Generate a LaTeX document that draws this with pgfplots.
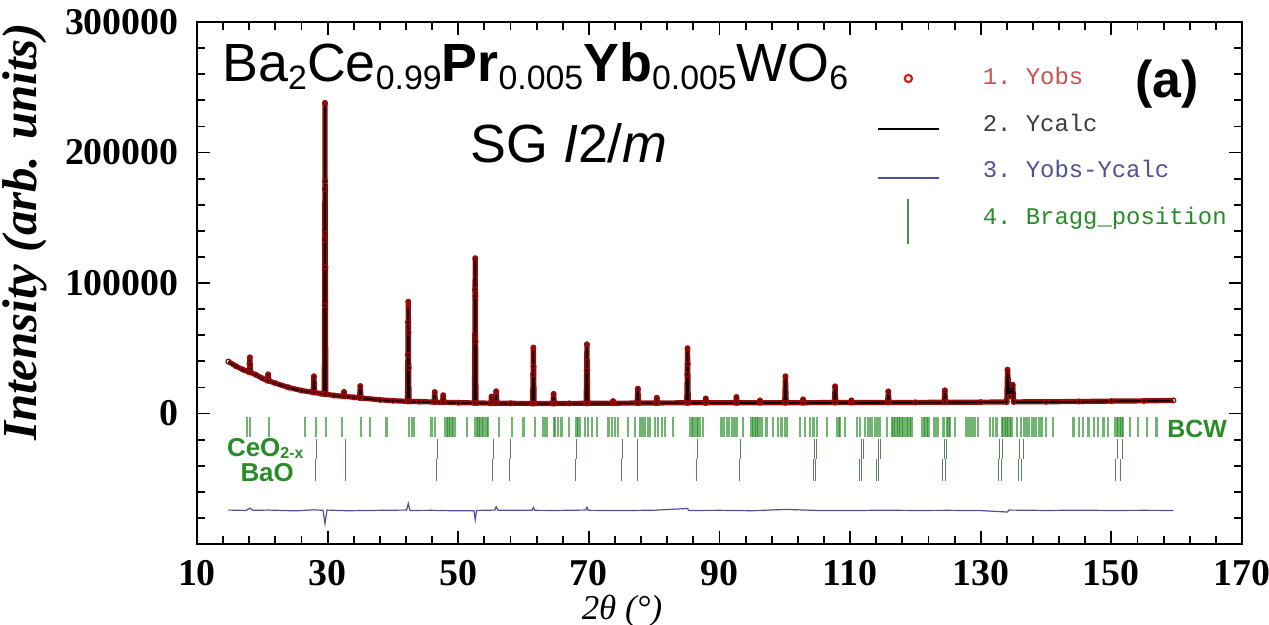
\documentclass[border=0pt]{standalone}
\usepackage{pgfplots}
\pgfplotsset{compat=1.18}
\usepackage{fontspec}
\setmainfont{Liberation Serif}
\setsansfont{Liberation Sans}
\setmonofont{Liberation Mono}
\newfontfamily\arial{Liberation Sans}
\definecolor{obsred}{RGB}{150,10,10}
\definecolor{legred}{RGB}{200,80,80}
\definecolor{legcirc}{RGB}{200,30,30}
\definecolor{calcgray}{RGB}{60,60,60}
\definecolor{diffblue}{RGB}{80,80,150}
\definecolor{braggreen}{RGB}{40,140,40}
\definecolor{tickgreen}{RGB}{20,130,20}
\definecolor{phasegreen}{RGB}{90,130,90}
\newcommand\sub[1]{\raisebox{-4bp}{\fontsize{17}{17}\selectfont #1}}
\begin{document}
\begin{tikzpicture}
\useasboundingbox (-98.5bp,-40.5bp) rectangle (536bp,272bp);
\begin{axis}[
  at={(0,0)}, anchor=south west, scale only axis,
  width=522.5bp, height=261bp,
  xmin=10, xmax=170, ymin=-100000, ymax=300000,
  scaled y ticks=false, scaled x ticks=false,
  xtick={10,30,...,170}, xticklabels={10,30,50,70,90,110,130,150,170},
  ytick={-100000,0,100000,200000,300000}, yticklabels={{},0,100000,200000,300000},
  minor x tick num=4, minor y tick num=4,
  tick align=inside, major tick length=6.5bp, minor tick length=4bp,
  axis line style={line width=1.2bp},
  every tick/.append style={line width=0.9bp, black},
  ticklabel style={font=\bfseries\fontsize{19}{19}\selectfont, inner sep=0pt},
  xticklabel style={yshift=-8bp},
  yticklabel style={xshift=-9bp},
  ylabel={\bfseries\itshape Intensity (arb. units)},
  ylabel style={at={(axis description cs:-0.1646,0.598)}, anchor=center, font=\fontsize{24.5}{24.5}\selectfont},
  xlabel={\itshape 2θ (°)},
  xlabel style={at={(axis description cs:0.4067,-0.129)}, anchor=center, font=\fontsize{17.5}{17.5}\selectfont},
  legend style={at={(axis description cs:0.6507,0.9148)}, anchor=north west, draw=none, fill=none,
    inner sep=0pt, outer sep=0pt, row sep=11.3bp, column sep=21bp,
    nodes={inner sep=0pt, text height=9bp, text depth=3bp, font=\fontsize{12}{12}\selectfont\ttfamily}},
  legend cell align=left,
]
% 1. Yobs
\addplot[forget plot, color=obsred, line width=2.6bp, line join=round, mark=o, mark size=1.2bp,
  mark options={line width=0.6bp, draw=obsred, fill=none}]
coordinates {
(14.8,39800) (16,36200) (17,33700) (17.98,31700) (18.05,38000) (18.1,43000) (18.15,37000) (18.22,31500)
(19,29700) (20,27000) (20.78,25200) (20.9,30000) (21.02,25000) (22,23200) (24,20000) (26,17600)
(27.78,16200) (27.9,28500) (28.02,16100) (29,15200) (29.48,14900) (29.54,83000) (29.56,133000)
(29.58,172000) (29.6,238000) (29.62,178000) (29.64,138000) (29.66,112000) (29.72,14800)
(31,13800) (32.38,13200) (32.5,16500) (32.62,13150) (34,12400) (34.88,12000) (35.0,21000) (35.12,11900)
(38,10500) (40,9800) (42.23,9300) (42.29,45000) (42.32,70000) (42.35,85600) (42.38,62000) (42.41,35000)
(42.47,9250) (44,9100) (46.28,8800) (46.4,16400) (46.52,8750) (47.58,8600) (47.7,14000) (47.82,8600)
(50,8300) (52.48,8100) (52.54,60000) (52.57,95000) (52.6,119000) (52.63,90000) (52.66,55000) (52.72,8100)
(54.98,7900) (55.1,13000) (55.22,7900) (55.68,7900) (55.8,17000) (55.92,7900) (58,7800)
(61.38,7700) (61.46,30000) (61.5,50500) (61.54,36000) (61.62,7700) (64.48,7700) (64.6,15000) (64.72,7700)
(67,7750) (69.58,7800) (69.66,33000) (69.7,53000) (69.74,40000) (69.82,7800) (73.58,7900) (73.7,9500)
(73.82,7900) (77.38,8000) (77.5,19000) (77.62,8000) (80.28,8100) (80.4,12000) (80.52,8100)
(84.98,8200) (85.06,30000) (85.1,50000) (85.14,38000) (85.22,8200) (87.78,8200) (87.9,11500) (88.02,8200)
(92.48,8200) (92.6,12600) (92.72,8200) (96.08,8300) (96.2,10000) (96.32,8300) (99.98,8300) (100.1,28500)
(100.22,8300) (102.68,8300) (102.8,10800) (102.92,8300) (107.58,8400) (107.7,20800) (107.82,8400)
(110.08,8400) (110.2,10000) (110.32,8400) (115.73,8500) (115.85,16900) (115.97,8500) (120,8500)
(124.38,8600) (124.5,17700) (124.62,8600) (130,8700) (133.98,8800) (134.1,33600) (134.4,13000)
(134.9,22000) (135.05,8900) (140,9000) (145,9200) (150,9500) (155,9700) (159.5,10000)
};
% 2. Ycalc
\addplot[forget plot, color=black, line width=0.8bp, line join=round, mark=none]
coordinates {
(14.8,39500) (16,36000) (17,33500) (17.98,31500) (18.1,42000) (18.22,31300) (19,29500) (20,26800)
(20.78,25000) (20.9,29500) (21.02,24800) (22,23000) (24,19800) (26,17400) (27.78,16000) (27.9,28000)
(28.02,15900) (29,15000) (29.48,14700) (29.6,236000) (29.72,14600) (31,13600) (32.38,13000) (32.5,16000)
(32.62,12950) (34,12200) (34.88,11800) (35.0,20500) (35.12,11700) (38,10300) (40,9600) (42.23,9100)
(42.35,80000) (42.47,9050) (44,8900) (46.28,8600) (46.4,16000) (46.52,8550) (47.58,8400) (47.7,13500)
(47.82,8400) (50,8100) (52.48,7900) (52.6,118000) (52.72,7900) (54.98,7700) (55.1,12500) (55.22,7700)
(55.68,7700) (55.8,14000) (55.92,7700) (58,7600) (61.38,7500) (61.5,49000) (61.62,7500) (64.48,7500)
(64.6,14500) (64.72,7500) (67,7550) (69.58,7600) (69.7,51000) (69.82,7600) (73.58,7700) (73.7,9500)
(73.82,7700) (77.38,7800) (77.5,18500) (77.62,7800) (80.28,7900) (80.4,11500) (80.52,7900) (84.98,8000)
(85.1,48500) (85.22,8000) (87.78,8000) (87.9,11000) (88.02,8000) (92.48,8000) (92.6,12200) (92.72,8000)
(96.08,8100) (96.2,10000) (96.32,8100) (99.98,8100) (100.1,27500) (100.22,8100) (102.68,8100) (102.8,10500)
(102.92,8100) (107.58,8200) (107.7,20000) (107.82,8200) (110.08,8200) (110.2,10000) (110.32,8200)
(115.73,8300) (115.85,16500) (115.97,8300) (120,8300) (124.38,8400) (124.5,17000) (124.62,8400) (130,8500)
(133.98,8600) (134.1,33000) (134.4,13000) (134.9,21500) (135.05,8700) (140,8800) (145,9000) (150,9300)
(155,9500) (159.5,9800)
};
% 3. Yobs-Ycalc
\addplot[forget plot, color=diffblue, line width=0.6bp, mark=none]
coordinates {
(14.8,-74000) (17.5,-74300) (18.1,-72500) (18.6,-74200) (21,-74000) (25,-74600) (27.9,-73800)
(29.3,-74200) (29.6,-84500) (29.9,-74000) (33,-74500) (38,-74200) (42.1,-74000) (42.35,-69000)
(42.6,-74300) (46,-74200) (50,-74600) (52.4,-74500) (52.6,-81500) (52.8,-74300) (55.6,-74000)
(55.8,-71500) (56.1,-74200) (61.3,-74100) (61.5,-72000) (61.7,-74200) (65,-74300) (69.5,-74000)
(69.7,-71800) (69.9,-74200) (75,-74400) (80,-74100) (85.1,-72800) (85.3,-74300) (90,-74200)
(95,-74500) (100.1,-73500) (105,-74300) (110,-74400) (115,-74100) (120,-74300) (125,-74200)
(130,-74400) (134.1,-75500) (134.3,-74000) (140,-74300) (145,-74100) (150,-74300) (155,-74200)
(159.5,-74300)
};
% 4. Bragg positions, BCW
\addplot[forget plot, only marks, mark=|, mark size=5bp,
  mark options={line width=1.1bp, draw=tickgreen, draw opacity=0.6}]
coordinates {
(17.6,-10500) (18.1,-10500) (21.0,-10500) (26.5,-10500) (28.2,-10500) (29.75,-10500) (32.2,-10500)
(35.1,-10500) (36.5,-10500) (39.0,-10500) (42.4,-10500) (42.9,-10500) (43.2,-10500) (45.9,-10500) (46.4,-10500)
(48.0,-10500) (48.25,-10500) (48.5,-10500) (48.75,-10500) (49.0,-10500) (49.25,-10500) (49.5,-10500)
(51.3,-10500) (52.6,-10500) (52.85,-10500) (53.1,-10500) (53.35,-10500)
(53.6,-10500) (53.85,-10500) (54.1,-10500) (54.35,-10500) (54.6,-10500) (56.3,-10500) (58.2,-10500) (60.0,-10500) (61.8,-10500)
(63.0,-10500) (63.3,-10500) (63.6,-10500) (64.6,-10500) (64.8,-10500) (65.3,-10500) (65.8,-10500) (66.9,-10500) (68.1,-10500)
(68.35,-10500) (68.6,-10500) (69.4,-10500) (69.9,-10500) (70.5,-10500) (71.2,-10500) (73.0,-10500) (73.5,-10500) (74.0,-10500)
(74.5,-10500) (76.0,-10500) (77.1,-10500) (77.8,-10500) (78.2,-10500) (78.6,-10500) (79.0,-10500) (79.4,-10500) (80.1,-10500) (80.6,-10500)
(81.2,-10500) (81.7,-10500) (82.9,-10500) (85.5,-10500) (85.75,-10500) (86.0,-10500) (86.25,-10500) (86.5,-10500) (86.75,-10500)
(87.0,-10500) (87.5,-10500) (90.3,-10500) (90.7,-10500) (91.1,-10500) (91.5,-10500) (91.9,-10500) (92.2,-10500) (92.6,-10500)
(93.6,-10500) (94.9,-10500) (95.15,-10500) (95.4,-10500) (95.65,-10500)
(95.9,-10500) (96.2,-10500) (96.5,-10500) (97.2,-10500) (98.2,-10500) (99.0,-10500) (99.5,-10500) (100.0,-10500) (100.3,-10500) (102.3,-10500)
(103.1,-10500) (103.9,-10500) (104.4,-10500) (104.9,-10500) (106.4,-10500) (108.0,-10500) (108.25,-10500) (108.5,-10500) (109.2,-10500)
(111.0,-10500) (111.5,-10500) (112.3,-10500) (112.7,-10500) (113.0,-10500) (113.4,-10500) (113.8,-10500) (114.2,-10500) (114.6,-10500) (115.6,-10500)
(116.4,-10500) (116.65,-10500) (116.9,-10500) (117.15,-10500) (117.4,-10500) (117.65,-10500) (117.9,-10500) (118.15,-10500)
(118.4,-10500) (118.65,-10500) (118.9,-10500) (119.15,-10500) (119.4,-10500)
(121.0,-10500) (121.25,-10500) (121.5,-10500) (121.75,-10500) (122.0,-10500) (122.8,-10500) (123.1,-10500) (123.5,-10500)
(124.3,-10500) (124.8,-10500) (125.05,-10500)
(125.3,-10500) (126.0,-10500) (127.8,-10500) (128.1,-10500) (128.4,-10500) (128.75,-10500) (129.1,-10500) (129.6,-10500) (131.4,-10500)
(131.9,-10500) (132.4,-10500) (133.2,-10500) (133.45,-10500) (133.7,-10500) (133.95,-10500) (134.2,-10500) (134.45,-10500)
(134.7,-10500) (135.5,-10500)
(136.2,-10500) (136.6,-10500) (137.0,-10500) (137.4,-10500) (137.8,-10500) (138.15,-10500) (138.5,-10500) (138.9,-10500)
(139.3,-10500) (140.0,-10500) (141.1,-10500)
(144.2,-10500) (145.0,-10500) (145.7,-10500) (146.5,-10500) (147.3,-10500) (148.0,-10500) (148.8,-10500)
(149.5,-10500) (150.5,-10500) (150.8,-10500) (151.05,-10500) (151.3,-10500) (151.55,-10500) (151.8,-10500)
(152.9,-10500) (154.1,-10500) (155.4,-10500) (156.9,-10500)
};
% CeO2-x
\addplot[forget plot, only marks, mark=|, mark size=5bp,
  mark options={line width=0.5bp, draw=phasegreen}]
coordinates {
(28.3,-27000) (32.8,-27000) (46.8,-27000) (55.4,-27000) (58.0,-27000) (68.1,-27000) (75.1,-27000)
(77.5,-27000) (86.6,-27000) (93.2,-27000) (104.6,-27000) (104.9,-27000) (111.7,-27000) (112.0,-27000)
(114.3,-27000) (114.6,-27000) (124.4,-27000) (124.8,-27000) (132.9,-27000) (133.4,-27000)
(136.0,-27000) (136.5,-27000) (151.0,-27000) (151.7,-27000)
};
% BaO
\addplot[forget plot, only marks, mark=|, mark size=5.5bp,
  mark options={line width=0.5bp, draw=phasegreen}]
coordinates {
(28.2,-43000) (32.7,-43000) (46.7,-43000) (55.3,-43000) (57.9,-43000) (68.0,-43000) (75.0,-43000)
(77.4,-43000) (86.5,-43000) (93.1,-43000) (104.4,-43000) (104.7,-43000) (111.5,-43000) (111.8,-43000)
(114.1,-43000) (114.4,-43000) (124.2,-43000) (124.6,-43000) (132.7,-43000) (133.2,-43000)
(135.8,-43000) (136.3,-43000) (150.7,-43000) (151.4,-43000)
};
% legend
\addlegendimage{legend image code/.code={\path[draw=none,fill=none] (0bp,0bp) rectangle (30.5bp,0bp);
   \draw[draw=legcirc, line width=1.1bp, fill=none] (15bp,0bp) circle (1.8bp);}}
\addlegendentry{\textcolor{legred}{1. Yobs}}
\addlegendimage{legend image code/.code={\path[draw=none,fill=none] (0bp,0bp) rectangle (30.5bp,0bp);
   \draw[draw=black, line width=1.4bp] (0bp,-2bp)--(30.5bp,-2bp);}}
\addlegendentry{\textcolor{calcgray}{2. Ycalc}}
\addlegendimage{legend image code/.code={\path[draw=none,fill=none] (0bp,0bp) rectangle (30.5bp,0bp);
   \draw[draw=diffblue, line width=0.9bp] (0bp,-3bp)--(30.5bp,-3bp);}}
\addlegendentry{\textcolor{diffblue}{3. Yobs-Ycalc}}
\addlegendimage{legend image code/.code={\path[draw=none,fill=none] (0bp,0bp) rectangle (30.5bp,0bp);
   \draw[overlay, draw=phasegreen, line width=0.9bp] (15bp,-13bp)--(15bp,9.5bp);}}
\addlegendentry{\textcolor{braggreen}{4. Bragg\_position}}
% annotations
\node[anchor=base west, inner sep=0pt, font=\arial\fontsize{27}{27}\selectfont] at (axis cs:13.83,254500)
  {Ba\sub{2}Ce\sub{0.99}\textbf{Pr}\sub{0.005}\textbf{Yb}\sub{0.005}WO\sub{6}};
\node[anchor=base west, inner sep=0pt, font=\arial\fontsize{27}{27}\selectfont] at (axis cs:51.8,192000)
  {SG \textit{I}2/\textit{m}};
\node[anchor=base west, inner sep=0pt, font=\arial\bfseries\fontsize{26}{26}\selectfont] at (axis cs:153.6,242200)
  {(a)};
\node[anchor=base west, inner sep=0pt, text=braggreen, font=\arial\bfseries\fontsize{12.5}{12.5}\selectfont] at (axis cs:158.5,-18500)
  {BCW};
\node[anchor=base west, inner sep=0pt, text=braggreen, font=\arial\bfseries\fontsize{13}{13}\selectfont] at (axis cs:14.55,-33000)
  {CeO\raisebox{-1bp}{\fontsize{8}{8}\selectfont 2-x}};
\node[anchor=base west, inner sep=0pt, text=braggreen, font=\arial\bfseries\fontsize{13}{13}\selectfont] at (axis cs:16.6,-52300)
  {BaO};
\end{axis}
\end{tikzpicture}
\end{document}
